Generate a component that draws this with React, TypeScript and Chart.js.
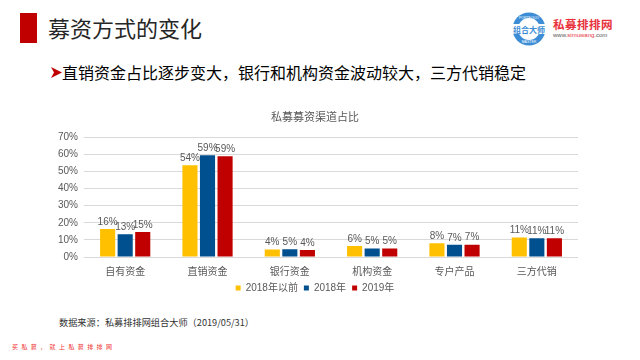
import React, { useEffect, useRef } from "react";
import { Chart, registerables } from "chart.js";

Chart.register(...registerables);

const categories = ["自有资金", "直销资金", "银行资金", "机构资金", "专户产品", "三方代销"];
const seriesNames = ["2018年以前", "2018年", "2019年"];
const before2018 = [16.3, 53.6, 4.4, 6.4, 8.0, 11.4];
const year2018 = [13.3, 59.4, 4.6, 4.9, 7.1, 11.0];
const year2019 = [14.6, 58.9, 4.1, 4.9, 7.2, 10.9];
const seriesColors = ["#FFC000", "#00508F", "#C00000"];
const yMax = 70;
const yStep = 10;

const chartTitle = "私募募资渠道占比";
const pageTitle = "募资方式的变化";
const subtitle = "直销资金占比逐步变大，银行和机构资金波动较大，三方代销稳定";
const sourceText = "数据来源：私募排排网组合大师（2019/05/31）";
const footerText = "买私募，就上私募排排网";

const FONT = "'Liberation Sans', 'Noto Sans CJK SC', sans-serif";
const CJK = "'Noto Sans CJK SC', 'Liberation Sans', sans-serif";

const barLabelPlugin = {
  id: "barLabels",
  afterDatasetsDraw(chart: any) {
    const ctx = chart.ctx;
    ctx.save();
    ctx.font = "10px " + FONT;
    ctx.fillStyle = "#595959";
    ctx.textAlign = "center";
    ctx.textBaseline = "bottom";
    chart.data.datasets.forEach((ds: any, i: number) => {
      const meta = chart.getDatasetMeta(i);
      meta.data.forEach((bar: any, j: number) => {
        const v = ds.data[j];
        ctx.fillText(Math.round(v) + "%", bar.x, bar.y - 2);
      });
    });
    ctx.restore();
  },
};

function BarChart() {
  const ref = useRef<HTMLCanvasElement | null>(null);
  useEffect(() => {
    if (!ref.current) return;
    const seriesData = [before2018, year2018, year2019];
    const chart = new Chart(ref.current, {
      type: "bar",
      data: {
        labels: categories,
        datasets: seriesNames.map((name, i) => ({
          label: name,
          data: seriesData[i],
          backgroundColor: seriesColors[i],
          borderWidth: 0,
          categoryPercentage: 0.64,
          barPercentage: 0.86,
        })),
      },
      options: {
        responsive: false,
        animation: false,
        layout: { padding: { left: 12, right: 22, top: 0, bottom: 0 } },
        plugins: {
          title: {
            display: true,
            text: chartTitle,
            color: "#595959",
            font: { size: 11, family: CJK, weight: "normal" },
            padding: { top: 4, bottom: 14 },
          },
          legend: {
            position: "bottom",
            labels: {
              boxWidth: 5,
              boxHeight: 5,
              color: "#595959",
              font: { size: 10, family: FONT },
              padding: 6,
            },
          },
          tooltip: { enabled: false },
        },
        scales: {
          x: {
            grid: { display: false },
            border: { display: false },
            ticks: { color: "#595959", font: { size: 10, family: CJK }, padding: 0 },
          },
          y: {
            min: 0,
            max: yMax,
            ticks: {
              stepSize: yStep,
              autoSkip: false,
              color: "#595959",
              font: { size: 10, family: FONT },
              callback: (v: any) => v + "%",
              padding: 6,
            },
            grid: { color: "#D9D9D9", drawTicks: false },
            border: { display: false },
          },
        },
      },
      plugins: [barLabelPlugin],
    } as any);
    return () => chart.destroy();
  }, []);
  return <canvas ref={ref} width={560} height={197} style={{ display: "block" }} />;
}

function Logo() {
  return (
    <div style={{ position: "absolute", left: 511, top: 11, width: 112, height: 36 }}>
      <svg width="36" height="36" viewBox="0 0 36 36" style={{ position: "absolute", left: 0, top: 0 }}>
        <circle cx="18" cy="18" r="16.5" fill="#3C8DD6" />
        <circle cx="18" cy="18" r="11" fill="#ffffff" />
        <rect x="1" y="13" width="34" height="10" fill="#ffffff" />
        <text x="18" y="8" fontSize="3.5" fill="#ffffff" textAnchor="middle" fontFamily="Liberation Sans">PORTFOLIO</text>
        <text x="18" y="32" fontSize="3.5" fill="#ffffff" textAnchor="middle" fontFamily="Liberation Sans">MASTER</text>
        <text x="18" y="21.5" fontSize="8" fill="#3C8DD6" textAnchor="middle" fontWeight="bold" fontFamily="Noto Sans CJK SC">组合大师</text>
      </svg>
      <div style={{ position: "absolute", left: 42, top: 7, fontFamily: CJK, fontWeight: 700, fontSize: 11.5, color: "#E8323C", lineHeight: "12px", letterSpacing: 0.5 }}>私募排排网</div>
      <div style={{ position: "absolute", left: 42, top: 21, fontFamily: FONT, fontSize: 6, color: "#555", lineHeight: "7px" }}>
        www.<span style={{ color: "#E8323C" }}>simuwang</span>.com
      </div>
    </div>
  );
}

export default function App() {
  return (
    <div style={{ position: "absolute", left: 0, top: 0, width: 640, height: 360, background: "#fff", overflow: "hidden" }}>
      <div style={{ position: "absolute", left: 20, top: 13, width: 17, height: 30, background: "#C00000" }} />
      <div style={{ position: "absolute", left: 48, top: 12, fontFamily: CJK, fontSize: 22, lineHeight: "30px", color: "#262626" }}>{pageTitle}</div>
      <Logo />
      <svg width="11" height="11" viewBox="0 0 11 11" style={{ position: "absolute", left: 51, top: 67 }}>
        <polygon points="0,0 11,5.5 0,11 3,5.5" fill="#C00000" />
      </svg>
      <div style={{ position: "absolute", left: 62, top: 61, fontFamily: CJK, fontSize: 16, lineHeight: "22px", color: "#000" }}>{subtitle}</div>
      <div style={{ position: "absolute", left: 40, top: 106 }}>
        <BarChart />
      </div>
      <div style={{ position: "absolute", left: 59, top: 315, fontFamily: "'Noto Sans CJK SC', monospace", fontSize: 9.2, lineHeight: "14px", color: "#333" }}>{sourceText}</div>
      <div style={{ position: "absolute", left: 12, top: 343, fontFamily: CJK, fontSize: 6, letterSpacing: 3.4, lineHeight: "8px", color: "#F03030" }}>{footerText}</div>
    </div>
  );
}
